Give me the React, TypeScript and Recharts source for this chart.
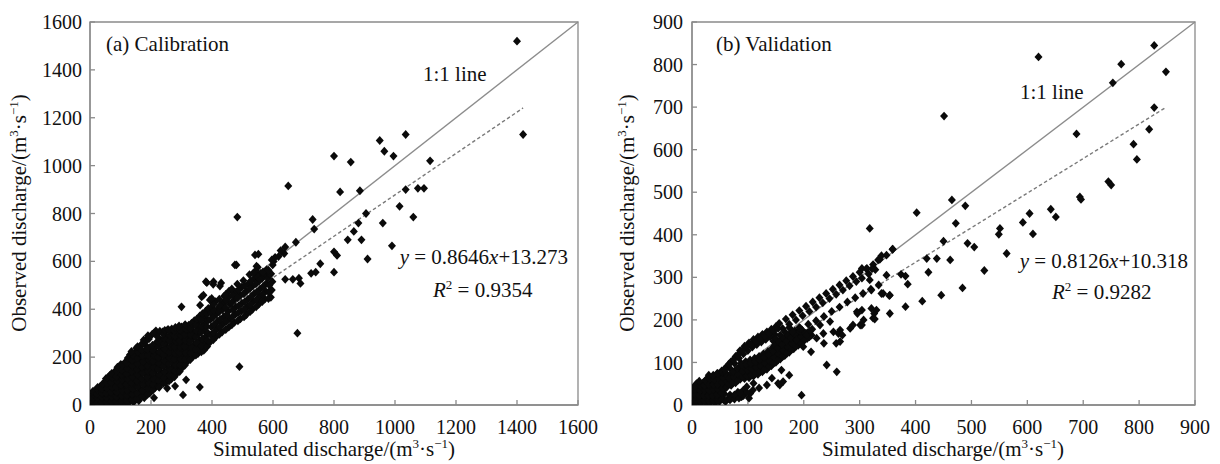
import React from 'react';
import { ScatterChart, Scatter, XAxis, YAxis, ReferenceLine, ReferenceArea } from 'recharts';

const calibrationPoints: [number, number][] = [
  [3, 8], [6, 22], [4, 38], [8, 50], [2, 30],
  [16, 5], [18, 20], [20, 36], [17, 52], [22, 66], [12, 14],
  [30, 6], [33, 24], [35, 42], [31, 60], [34, 78], [26, 45],
  [45, 4], [47, 20], [44, 38], [48, 58], [46, 76], [50, 96], [52, 110],
  [60, 6], [63, 24], [62, 44], [64, 64], [61, 84], [66, 104], [65, 124],
  [76, 5], [79, 22], [80, 42], [78, 62], [82, 82], [77, 102], [80, 122], [83, 142],
  [93, 7], [96, 26], [95, 48], [97, 70], [94, 92], [98, 112], [96, 134], [99, 154], [101, 170],
  [110, 6], [112, 28], [114, 50], [111, 72], [115, 94], [113, 116], [110, 138], [114, 160], [116, 180],
  [126, 8], [129, 30], [130, 54], [127, 78], [131, 100], [128, 124], [132, 146], [129, 170], [133, 192], [131, 210],
  [143, 12], [146, 34], [144, 58], [147, 82], [145, 106], [148, 130], [146, 154], [149, 178], [144, 200], [150, 222], [152, 238],
  [160, 18], [163, 42], [165, 66], [161, 90], [164, 114], [162, 138], [166, 162], [163, 186], [167, 208], [161, 232], [168, 252],
  [178, 30], [181, 55], [183, 80], [179, 104], [182, 128], [180, 152], [184, 176], [181, 200], [178, 222], [185, 246], [183, 268],
  [196, 50], [199, 75], [201, 100], [197, 124], [200, 148], [203, 172], [198, 196], [202, 220], [196, 240], [204, 296], [192, 282],
  [213, 72], [216, 96], [218, 120], [214, 144], [217, 168], [215, 192], [219, 216], [213, 240], [218, 262], [220, 300], [216, 310],
  [230, 85], [233, 110], [235, 134], [231, 158], [234, 182], [232, 206], [236, 230], [230, 252], [234, 270], [238, 305],
  [248, 95], [251, 120], [253, 144], [249, 168], [252, 192], [250, 216], [254, 240], [248, 262], [252, 284], [250, 310], [256, 316],
  [266, 108], [269, 132], [271, 156], [267, 180], [270, 204], [268, 228], [272, 252], [266, 276], [270, 298], [268, 318],
  [283, 130], [286, 155], [288, 180], [284, 205], [287, 230], [285, 255], [289, 278], [283, 300], [288, 322],
  [300, 152], [303, 178], [305, 204], [301, 230], [304, 256], [302, 280], [306, 302], [300, 326],
  [318, 180], [321, 205], [323, 232], [319, 258], [322, 284], [320, 308], [324, 334],
  [336, 200], [339, 226], [341, 252], [337, 278], [340, 304], [338, 330], [342, 352],
  [354, 215], [357, 242], [359, 268], [355, 296], [358, 322], [356, 348], [360, 372],
  [373, 228], [376, 256], [378, 284], [374, 312], [377, 340], [375, 368], [379, 392],
  [10, 2], [11, 14], [9, 28], [12, 44], [10, 58],
  [24, 12], [25, 28], [23, 46], [27, 62], [25, 74],
  [38, 12], [39, 32], [40, 50], [37, 68], [41, 88],
  [54, 12], [55, 30], [53, 50], [56, 70], [55, 90], [58, 114],
  [70, 14], [71, 34], [69, 54], [72, 74], [70, 94], [73, 114], [71, 132],
  [86, 14], [87, 34], [88, 54], [85, 76], [89, 98], [86, 118], [88, 140], [90, 158],
  [103, 16], [104, 38], [105, 60], [102, 82], [106, 104], [103, 126], [105, 146], [107, 166],
  [120, 16], [121, 40], [122, 62], [119, 86], [123, 108], [120, 130], [122, 152], [121, 174], [124, 196],
  [137, 20], [138, 44], [139, 68], [136, 92], [140, 116], [137, 140], [139, 164], [138, 188], [141, 210], [136, 224],
  [154, 26], [155, 50], [156, 76], [153, 100], [157, 124], [154, 148], [156, 172], [155, 196], [158, 220], [156, 244],
  [171, 36], [172, 60], [174, 86], [170, 110], [173, 134], [171, 158], [175, 182], [172, 206], [170, 230], [174, 258], [176, 272],
  [189, 44], [190, 68], [192, 92], [188, 116], [191, 140], [189, 164], [193, 188], [190, 210], [188, 232], [193, 276], [190, 290],
  [206, 62], [207, 86], [209, 110], [205, 134], [208, 158], [206, 182], [210, 206], [207, 228], [205, 250], [210, 300],
  [224, 78], [225, 102], [227, 126], [223, 150], [226, 174], [224, 198], [228, 222], [225, 244], [227, 262], [222, 284], [229, 308],
  [241, 90], [242, 114], [244, 138], [240, 162], [243, 186], [241, 210], [245, 234], [242, 256], [244, 276], [240, 296], [245, 312],
  [259, 100], [260, 124], [262, 148], [258, 172], [261, 196], [259, 220], [263, 244], [260, 268], [262, 290], [258, 312],
  [277, 118], [278, 142], [280, 168], [276, 192], [279, 216], [277, 242], [281, 266], [278, 288], [276, 310], [280, 324],
  [294, 140], [295, 166], [297, 192], [293, 218], [296, 242], [294, 266], [298, 290], [295, 314], [292, 330],
  [311, 166], [312, 192], [314, 218], [310, 244], [313, 270], [311, 294], [315, 318], [312, 336],
  [329, 190], [330, 216], [332, 242], [328, 268], [331, 292], [329, 318], [333, 342],
  [347, 208], [348, 234], [350, 260], [346, 284], [349, 310], [347, 336], [351, 360],
  [365, 222], [366, 248], [368, 276], [364, 304], [367, 330], [365, 356], [369, 382],
  [384, 244], [385, 270], [387, 300], [383, 328], [386, 354], [384, 380], [388, 404],
  [393, 262], [396, 292], [398, 326], [394, 356], [397, 384], [400, 410],
  [413, 285], [416, 318], [418, 350], [414, 380], [419, 402], [412, 432],
  [433, 305], [436, 338], [438, 368], [434, 398], [437, 428], [440, 455],
  [455, 325], [458, 360], [454, 392], [459, 420], [452, 448], [456, 476],
  [473, 345], [476, 378], [478, 410], [474, 440], [479, 472],
  [493, 360], [496, 392], [498, 425], [494, 458], [497, 492],
  [513, 378], [516, 410], [518, 442], [514, 476], [519, 505],
  [533, 400], [536, 432], [538, 465], [534, 498], [539, 530],
  [553, 420], [556, 452], [558, 485], [554, 518], [559, 550], [550, 575],
  [573, 442], [576, 475], [578, 508], [574, 540], [579, 565],
  [593, 450], [596, 480], [598, 515], [594, 548], [599, 585], [602, 600],
  [404, 272], [405, 302], [407, 336], [403, 366], [406, 394], [404, 422],
  [424, 295], [425, 326], [427, 358], [423, 388], [426, 415], [424, 442],
  [445, 315], [446, 348], [448, 378], [444, 406], [447, 435], [445, 462],
  [465, 335], [466, 368], [468, 398], [464, 428], [467, 458], [465, 485],
  [485, 352], [486, 385], [488, 415], [484, 448], [487, 480], [483, 505],
  [505, 368], [506, 400], [508, 432], [504, 465], [507, 498], [503, 520],
  [525, 390], [526, 420], [528, 452], [524, 486], [527, 518], [523, 545],
  [545, 410], [546, 440], [548, 472], [544, 506], [547, 540], [543, 560],
  [565, 432], [566, 462], [568, 495], [564, 528], [567, 556],
  [585, 445], [586, 472], [588, 500], [584, 530], [589, 548],
  [300, 410], [380, 515], [405, 515], [430, 510], [366, 452], [393, 439], [475, 585], [480, 585],
  [541, 627], [552, 630], [546, 580], [536, 552], [557, 524], [585, 563], [372, 459], [399, 445],
  [361, 417], [383, 511], [404, 504], [426, 497], [607, 617], [596, 606], [618, 620], [637, 633], [629, 640],
  [1400, 1520], [1420, 1130], [1035, 1130], [950, 1105], [965, 1060], [995, 1040], [800, 1040], [855, 1015],
  [1115, 1020], [650, 915], [820, 890], [885, 895], [1035, 900], [1075, 905], [1095, 905], [1015, 830],
  [1060, 785], [960, 760], [905, 800], [880, 760], [865, 725], [845, 690], [890, 690], [990, 665],
  [730, 775], [735, 735], [675, 680], [640, 660], [625, 645], [800, 640], [810, 625], [910, 610],
  [483, 785], [680, 300], [490, 160], [360, 75], [305, 42], [315, 105], [210, 30], [279, 79], [253, 70], [227, 74],
  [640, 525], [665, 525], [685, 530], [690, 508], [725, 550], [740, 555], [755, 590], [800, 555],
];

const validationPoints: [number, number][] = [
  [3, 6], [4, 18], [5, 30], [2, 40],
  [9, 4], [10, 16], [11, 28], [9, 40], [8, 50],
  [17, 6], [18, 18], [19, 30], [18, 42], [20, 52],
  [25, 4], [26, 16], [27, 28], [25, 40], [28, 52], [26, 60],
  [33, 6], [34, 18], [35, 30], [33, 42], [36, 54], [34, 64],
  [41, 5], [42, 17], [43, 29], [41, 41], [44, 53], [42, 65], [45, 74],
  [49, 8], [50, 20], [51, 32], [49, 44], [52, 56], [50, 68], [53, 80],
  [57, 12], [58, 26], [60, 40], [57, 54], [60, 68], [59, 84],
  [6, 0], [7, 12], [6, 24], [5, 36], [6, 46],
  [14, 10], [13, 22], [15, 34], [14, 46], [13, 56],
  [22, 10], [21, 22], [23, 34], [22, 46], [24, 58],
  [30, 10], [29, 22], [31, 34], [30, 48], [32, 60], [30, 70],
  [38, 10], [37, 22], [39, 36], [38, 48], [40, 60], [38, 70],
  [46, 10], [45, 24], [47, 36], [46, 48], [48, 62], [46, 74],
  [54, 14], [53, 28], [55, 40], [54, 52], [56, 64], [54, 76],
  [64, 14], [72, 18], [80, 22], [88, 20], [96, 28], [102, 16], [82, 30], [109, 35], [92, 35], [104, 27], [89, 20], [68, 24],
  [60, 8], [68, 12], [76, 14], [84, 16], [92, 22], [98, 30], [76, 24], [86, 28],
  [98, 43], [110, 51], [134, 47], [143, 63], [157, 47], [163, 55], [160, 82], [174, 70], [154, 51], [196, 23],
  [241, 94], [259, 78], [120, 40],
  [55, 78], [62, 90], [70, 102], [78, 114], [86, 128], [94, 138], [102, 146], [110, 154], [118, 160], [126, 166],
  [134, 172], [142, 178], [150, 184],
  [60, 76], [68, 86], [76, 98], [84, 110], [92, 120], [100, 128], [108, 136], [116, 142], [124, 148], [132, 154],
  [140, 160], [148, 166],
  [58, 84], [66, 96], [74, 106], [82, 118], [90, 128], [98, 136], [106, 142], [114, 150], [122, 156], [130, 162],
  [138, 168], [146, 174], [154, 180],
  [62, 42], [63, 56], [64, 68], [70, 46], [71, 60], [70, 72], [78, 52], [79, 66], [77, 80],
  [86, 60], [87, 74], [85, 88], [88, 98], [94, 62], [95, 76], [93, 90], [96, 102],
  [102, 64], [103, 78], [101, 92], [104, 106], [110, 68], [111, 82], [109, 96], [112, 110],
  [118, 72], [119, 86], [117, 100], [120, 114], [126, 78], [127, 92], [125, 106], [128, 120],
  [134, 84], [135, 98], [133, 112], [136, 126], [142, 92], [143, 106], [141, 120], [144, 134], [146, 150],
  [150, 100], [151, 114], [149, 128], [152, 142], [150, 156], [158, 108], [159, 122], [157, 136], [160, 150], [158, 164],
  [166, 116], [167, 130], [165, 144], [168, 158], [166, 172], [174, 124], [175, 138], [173, 152], [176, 166], [174, 182],
  [182, 132], [183, 146], [181, 160], [184, 174], [190, 140], [191, 154], [189, 168], [192, 182],
  [198, 148], [199, 162], [197, 176], [206, 156], [207, 170], [214, 164], [215, 178],
  [66, 49], [67, 62], [74, 53], [75, 66], [74, 78], [82, 58], [83, 72], [81, 86], [90, 66], [91, 80], [89, 94],
  [98, 68], [99, 82], [97, 96], [106, 70], [107, 84], [105, 98], [114, 74], [115, 88], [113, 102],
  [122, 78], [123, 92], [121, 106], [130, 84], [131, 98], [129, 112], [138, 90], [139, 104], [137, 118],
  [146, 98], [147, 112], [145, 126], [148, 140], [154, 106], [155, 120], [153, 134], [156, 148],
  [162, 114], [163, 128], [161, 142], [164, 156], [170, 122], [171, 136], [169, 150], [172, 164],
  [178, 130], [179, 144], [177, 158], [180, 172], [186, 138], [187, 152], [185, 166], [194, 146], [195, 160],
  [193, 174], [202, 154], [203, 168], [210, 160], [211, 174],
  [156, 192], [168, 202], [180, 212], [192, 222], [204, 232], [216, 242], [228, 252], [240, 262], [252, 272],
  [264, 282], [276, 292], [288, 302], [300, 312], [312, 320], [324, 330], [336, 342], [348, 352], [359, 366],
  [162, 180], [174, 190], [186, 200], [198, 210], [210, 220], [222, 230], [234, 240], [246, 250], [258, 260],
  [270, 270], [282, 280], [294, 290], [304, 298], [316, 308], [328, 318],
  [304, 321], [313, 321], [322, 320],
  [180, 172], [194, 180], [208, 190], [222, 198], [236, 208], [250, 220], [264, 230], [278, 242], [292, 252],
  [306, 262], [320, 272], [334, 282],
  [187, 153], [205, 164], [223, 157], [235, 168], [253, 172], [265, 176], [265, 149], [283, 180], [301, 188],
  [307, 200], [295, 219], [324, 204], [330, 223], [354, 215], [321, 227], [342, 262], [354, 258], [321, 270],
  [318, 294], [348, 305], [247, 196], [229, 188], [236, 145], [258, 145], [262, 168], [288, 188], [326, 215],
  [304, 223], [199, 137], [213, 125], [269, 164], [296, 215], [327, 202], [304, 188],
  [620, 818], [827, 845], [768, 801], [848, 783], [753, 757], [827, 699], [451, 679], [688, 637], [818, 648],
  [790, 613], [796, 577], [745, 525], [750, 517], [694, 489], [696, 483], [465, 482], [489, 468], [402, 452],
  [642, 460], [651, 442], [604, 450], [592, 429], [472, 427], [551, 415], [549, 401], [610, 402], [318, 415],
  [450, 385], [493, 380], [505, 371], [359, 366], [339, 351], [333, 341], [563, 356], [420, 344], [438, 344],
  [462, 341], [523, 316], [423, 312], [374, 307], [382, 303], [386, 284], [339, 262], [353, 257], [484, 275],
  [446, 258], [412, 244], [382, 231],
];

const calibrationTicks = [0, 200, 400, 600, 800, 1000, 1200, 1400, 1600];
const validationTicks = [0, 100, 200, 300, 400, 500, 600, 700, 800, 900];

// trend line: [slope, intercept] and x-range
const calibrationFit = [0.8646, 13.273];
const calibrationFitRange = [0, 1420];
const validationFit = [0.8126, 10.318];
const validationFitRange = [0, 848];

const FONT = 'Liberation Serif, Tinos, serif';
const AXIS_COLOR = '#8a8a8a';

function Diamond(props: any) {
  const { cx, cy } = props;
  if (cx == null || cy == null) return null;
  return (
    <path
      d={`M${cx},${cy - 4.4}L${cx + 4},${cy}L${cx},${cy + 4.4}L${cx - 4},${cy}Z`}
      fill="#0a0a0a"
    />
  );
}

type PanelProps = {
  points: [number, number][];
  ticks: number[];
  fit: number[];
  fitRange: number[];
  yAxisWidth: number;
  marginRight: number;
  tickMarginY: number;
};

function Panel({ points, ticks, fit, fitRange, yAxisWidth, marginRight, tickMarginY }: PanelProps) {
  const max = ticks[ticks.length - 1];
  const data = points.map(([x, y]) => ({ x, y }));
  const fitStart = { x: fitRange[0], y: fit[0] * fitRange[0] + fit[1] };
  const fitEnd = { x: fitRange[1], y: fit[0] * fitRange[1] + fit[1] };
  const tickStyle = { fill: '#111', fontSize: 20, fontFamily: FONT };
  return (
    <ScatterChart width={610} height={464} margin={{ top: 22, right: marginRight, bottom: 0, left: 0 }}>
      <XAxis
        type="number"
        dataKey="x"
        domain={[0, max]}
        ticks={ticks}
        interval={0}
        height={59}
        tickSize={-5}
        tickMargin={20}
        stroke={AXIS_COLOR}
        strokeWidth={1.3}
        tick={tickStyle}
        allowDataOverflow
      />
      <YAxis
        type="number"
        dataKey="y"
        domain={[0, max]}
        ticks={ticks}
        interval={0}
        width={yAxisWidth}
        tickSize={-5}
        tickMargin={tickMarginY}
        stroke={AXIS_COLOR}
        strokeWidth={1.3}
        tick={tickStyle}
        allowDataOverflow
      />
      <ReferenceArea x1={0} x2={max} y1={0} y2={max} fill="none" fillOpacity={0} stroke={AXIS_COLOR} strokeWidth={1.3} />
      <ReferenceLine segment={[{ x: 0, y: 0 }, { x: max, y: max }]} stroke="#8c8c8c" strokeWidth={1.4} />
      <ReferenceLine segment={[fitStart, fitEnd]} stroke="#7a7a7a" strokeWidth={1.4} strokeDasharray="3.5 2.5" />
      <Scatter data={data} shape={Diamond} isAnimationActive={false} />
    </ScatterChart>
  );
}

function Unit() {
  return (
    <>
      <tspan>/(m</tspan>
      <tspan dy={-8} fontSize={13}>3</tspan>
      <tspan dy={8}>·s</tspan>
      <tspan dy={-8} fontSize={13}>−1</tspan>
      <tspan dy={8}>)</tspan>
    </>
  );
}

function Overlay() {
  const common = { fontFamily: FONT, fontSize: 21, fill: '#111' };
  return (
    <svg width={1220} height={464} style={{ position: 'absolute', left: 0, top: 0, pointerEvents: 'none' }}>
      {/* left panel */}
      <text x={106} y={51} {...common}>(a) Calibration</text>
      <text x={423} y={81} {...common}>1:1 line</text>
      <text x={568} y={264} textAnchor="end" {...common}>
        <tspan fontStyle="italic">y</tspan> = 0.8646<tspan fontStyle="italic">x</tspan>+13.273
      </text>
      <text x={433} y={297} {...common}>
        <tspan fontStyle="italic">R</tspan>
        <tspan dy={-8} fontSize={13}>2</tspan>
        <tspan dy={8}> = 0.9354</tspan>
      </text>
      <text x={334} y={456} textAnchor="middle" {...common}>
        Simulated discharge<Unit />
      </text>
      <text transform="translate(26,213) rotate(-90)" textAnchor="middle" {...common}>
        Observed discharge<Unit />
      </text>
      {/* right panel */}
      <text x={716} y={51} {...common}>(b) Validation</text>
      <text x={1020} y={99} {...common}>1:1 line</text>
      <text x={1188} y={268} textAnchor="end" {...common}>
        <tspan fontStyle="italic">y</tspan> = 0.8126<tspan fontStyle="italic">x</tspan>+10.318
      </text>
      <text x={1052} y={299} {...common}>
        <tspan fontStyle="italic">R</tspan>
        <tspan dy={-8} fontSize={13}>2</tspan>
        <tspan dy={8}> = 0.9282</tspan>
      </text>
      <text x={943} y={456} textAnchor="middle" {...common}>
        Simulated discharge<Unit />
      </text>
      <text transform="translate(634,213) rotate(-90)" textAnchor="middle" {...common}>
        Observed discharge<Unit />
      </text>
    </svg>
  );
}

export default function App() {
  return (
    <div style={{ position: 'absolute', left: 0, top: 0, width: 1220, height: 464, background: '#fff' }}>
      <div style={{ position: 'absolute', left: 0, top: 0 }}>
        <Panel
          points={calibrationPoints}
          ticks={calibrationTicks}
          fit={calibrationFit}
          fitRange={calibrationFitRange}
          yAxisWidth={90}
          marginRight={32}
          tickMarginY={13}
        />
      </div>
      <div style={{ position: 'absolute', left: 610, top: 0 }}>
        <Panel
          points={validationPoints}
          ticks={validationTicks}
          fit={validationFit}
          fitRange={validationFitRange}
          yAxisWidth={82}
          marginRight={25}
          tickMarginY={14}
        />
      </div>
      <Overlay />
    </div>
  );
}
